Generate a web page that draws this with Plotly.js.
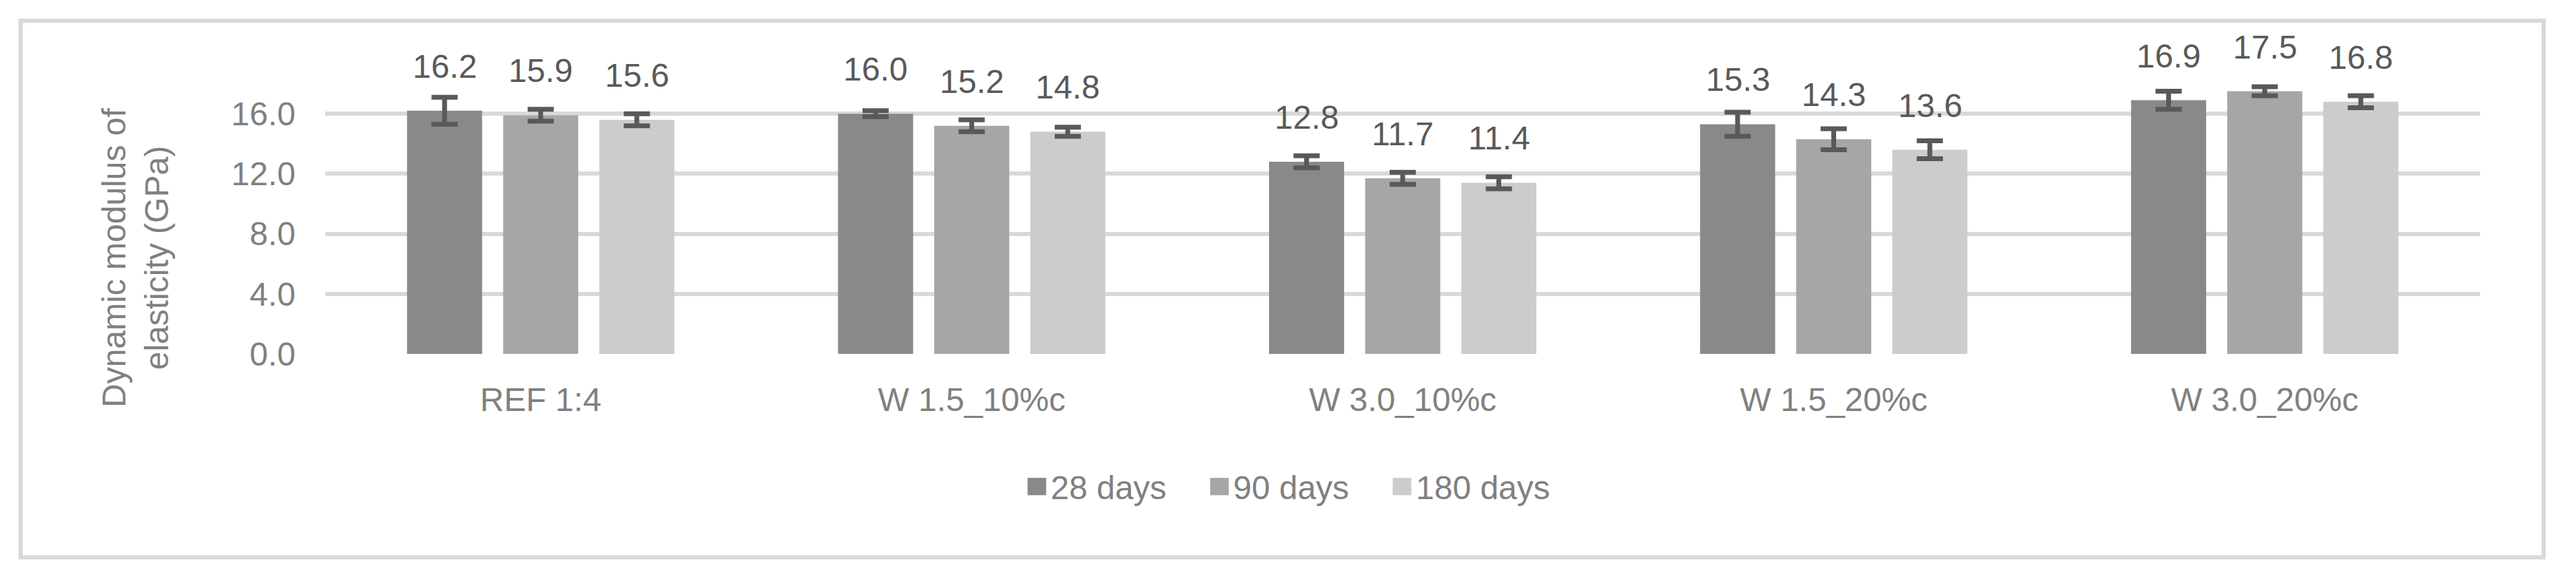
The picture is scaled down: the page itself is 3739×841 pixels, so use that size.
<!DOCTYPE html>
<html>
<head>
<meta charset="utf-8">
<script src="https://cdn.plot.ly/plotly-3.0.1.min.js"></script>
<style>
html,body{margin:0;padding:0;background:#ffffff;}
#chart{width:3739px;height:841px;}
</style>
</head>
<body>
<div id="chart"></div>
<script>
// ---- data ----
const categories = ["REF 1:4", "W 1.5_10%c", "W 3.0_10%c", "W 1.5_20%c", "W 3.0_20%c"];
const seriesNames = ["28 days", "90 days", "180 days"];
const days28  = [16.2, 16.0, 12.8, 15.3, 16.9];
const days90  = [15.9, 15.2, 11.7, 14.3, 17.5];
const days180 = [15.6, 14.8, 11.4, 13.6, 16.8];
const err28  = [0.9, 0.2, 0.4, 0.8, 0.6];
const err90  = [0.4, 0.4, 0.4, 0.7, 0.3];
const err180 = [0.4, 0.3, 0.4, 0.6, 0.4];
const yTickVals = [0, 4, 8, 12, 16];
const yTickText = ["0.0", "4.0", "8.0", "12.0", "16.0"];
const yTitle = "Dynamic modulus of<br>elasticity (GPa)";

// ---- style ----
const seriesValues = [days28, days90, days180];
const seriesErrors = [err28, err90, err180];
const colors = ["#898989", "#a6a6a6", "#cccccc"];
const FONT = "Liberation Sans, Arial, sans-serif";
const W = 3739, H = 841;
const M = {l: 472, r: 139, t: 78, b: 327};
const PW = W - M.l - M.r, PH = H - M.t - M.b;
const px2x = px => (px - M.l) / PW;
const py2y = py => (H - M.b - py) / PH;
const BARGAP = 0.331, BARGROUPGAP = 0.219;

const traces = seriesValues.map((vals, k) => ({
  type: "bar",
  name: seriesNames[k],
  x: categories,
  y: vals,
  marker: {color: colors[k]},
  error_y: {type: "data", array: seriesErrors[k], visible: true,
            color: "#595959", thickness: 7, width: 19},
  hoverinfo: "skip"
}));

const annotations = [];
const slot = (1 - BARGAP) / seriesValues.length;
seriesValues.forEach((vals, k) => {
  vals.forEach((v, i) => {
    annotations.push({
      xref: "x", yref: "y",
      x: i + (k - (seriesValues.length - 1) / 2) * slot,
      y: v,
      text: v.toFixed(1),
      showarrow: false,
      xanchor: "center", yanchor: "bottom",
      yshift: 36,
      font: {family: FONT, size: 48, color: "#595959"}
    });
  });
});
annotations.push({
  xref: "paper", yref: "paper",
  x: px2x(197), y: py2y(374),
  text: yTitle, textangle: -90, showarrow: false,
  xanchor: "center", yanchor: "middle",
  font: {family: FONT, size: 48, color: "#808080"}
});

const layout = {
  width: W, height: H,
  margin: M,
  paper_bgcolor: "#ffffff",
  plot_bgcolor: "#ffffff",
  barmode: "group",
  bargap: BARGAP,
  bargroupgap: BARGROUPGAP,
  font: {family: FONT, size: 48, color: "#808080"},
  xaxis: {
    type: "category",
    showgrid: false, zeroline: false, showline: false,
    ticks: "", ticklabelstandoff: 34,
    tickfont: {family: FONT, size: 48, color: "#808080"}
  },
  yaxis: {
    range: [0, 20],
    tickvals: yTickVals, ticktext: yTickText,
    showgrid: true, gridcolor: "#d9d9d9", gridwidth: 6,
    zeroline: false, showline: false, ticks: "",
    ticklabelstandoff: 42,
    tickfont: {family: FONT, size: 48, color: "#808080"}
  },
  showlegend: true,
  legend: {
    orientation: "h",
    x: px2x(1485), xanchor: "left",
    y: py2y(707), yanchor: "middle",
    font: {family: FONT, size: 48, color: "#808080"},
    entrywidth: 220, entrywidthmode: "pixels",
    bgcolor: "rgba(0,0,0,0)", borderwidth: 0
  },
  annotations: annotations,
  shapes: [{
    type: "rect", xref: "paper", yref: "paper",
    x0: px2x(30), x1: px2x(3692), y0: py2y(809.5), y1: py2y(30),
    line: {color: "#d9d9d9", width: 6}, fillcolor: "rgba(0,0,0,0)"
  }]
};

Plotly.newPlot("chart", traces, layout, {displayModeBar: false, staticPlot: true}).then(gd => {
  gd.querySelectorAll(".legend .legendpoints path").forEach(p => {
    const t = p.getAttribute("transform") || "";
    p.setAttribute("transform", t + " scale(2.25,2.1)");
  });
});
</script>
</body>
</html>
